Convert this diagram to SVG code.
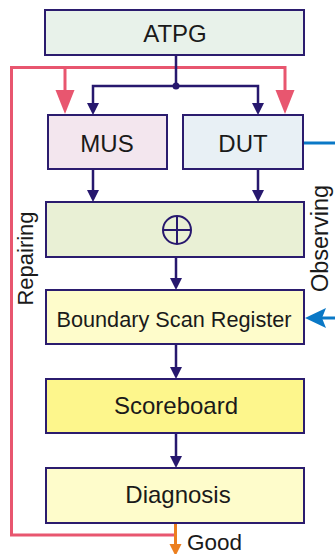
<svg xmlns="http://www.w3.org/2000/svg" width="335" height="554" viewBox="0 0 335 554">
<style>
.box{stroke:#2b1c6e;stroke-width:2}
.t{font-family:"Liberation Sans",Arial,sans-serif;font-size:24px;fill:#1a1a1a;text-anchor:middle}
.nv{stroke:#27186e;stroke-width:2.5;fill:none}
.rd{stroke:#e8566f;stroke-width:3;fill:none}
.nh{fill:#27186e}
</style>
<rect width="335" height="554" fill="#ffffff"/>
<g id="connectors">
<path class="rd" d="M176,535 H11.5 V67.5 H285 V92"/>
<path class="rd" d="M65,67.5 V92"/>
<path d="M55.5,90 L74.5,90 L65,114 Z" fill="#e8566f"/>
<path d="M275.5,90 L294.5,90 L285,114 Z" fill="#e8566f"/>
<path class="nv" d="M176,55 V86 M93,104 V86 H258 V104"/>
<circle cx="176" cy="86" r="3.5" class="nh"/>
<path class="nh" d="M87,103 L99,103 L93,115 Z M252,103 L264,103 L258,115 Z"/>
<path class="nv" d="M93,169 V191 M258,169 V191"/>
<path class="nh" d="M87,190 L99,190 L93,202 Z M252,190 L264,190 L258,202 Z"/>
<path class="nv" d="M176,257 V279"/>
<path class="nh" d="M170,278 L182,278 L176,290 Z"/>
<path class="nv" d="M176,344 V368"/>
<path class="nh" d="M170,367 L182,367 L176,379 Z"/>
<path class="nv" d="M176,433 V457"/>
<path class="nh" d="M170,456 L182,456 L176,468 Z"/>
<path d="M304,143 H335" stroke="#0a78c6" stroke-width="3" fill="none"/>
<path d="M335,318 H322" stroke="#0a78c6" stroke-width="3" fill="none"/>
<path d="M305,318 L326,308 L322,318 L326,328 Z" fill="#0a78c6"/>
<path d="M175.5,523 V546" stroke="#ec7f1f" stroke-width="3" fill="none"/>
<path d="M169.5,544 L181.5,544 L175.5,556 Z" fill="#ec7f1f"/>
</g>
<g id="atpg"><rect class="box" x="45" y="10" width="259" height="45" fill="#e8f2ea"/><text class="t" x="175" y="42">ATPG</text></g>
<g id="mus"><rect class="box" x="48" y="115" width="119" height="54" fill="#f3e6ee"/><text class="t" x="107" y="152">MUS</text></g>
<g id="dut"><rect class="box" x="183" y="115" width="120" height="54" fill="#e8f0f5"/><text class="t" x="243" y="152">DUT</text></g>
<g id="xor"><rect class="box" x="46" y="202" width="258" height="55" fill="#e9f0d5"/><circle cx="177" cy="230" r="14" fill="none" stroke="#27186e" stroke-width="2"/><path d="M163,230 H191 M177,216 V244" stroke="#27186e" stroke-width="2"/></g>
<g id="bsr"><rect class="box" x="46" y="290" width="258" height="54" fill="#fefccb"/><text class="t" x="174" y="327" style="font-size:21.7px">Boundary Scan Register</text></g>
<g id="scoreboard"><rect class="box" x="46" y="379" width="258" height="54" fill="#fdf68c"/><text class="t" x="176" y="414">Scoreboard</text></g>
<g id="diagnosis"><rect class="box" x="46" y="468" width="258" height="55" fill="#fefccb"/><text class="t" x="178" y="503">Diagnosis</text></g>
<g id="labels">
<text class="t" transform="translate(33,258.5) rotate(-90)" style="font-size:22px">Repairing</text>
<text class="t" transform="translate(328,238.5) rotate(-90)" style="font-size:23.5px">Observing</text>
<text class="t" x="187" y="550" style="text-anchor:start;font-size:22.5px">Good</text>
</g>
</svg>
